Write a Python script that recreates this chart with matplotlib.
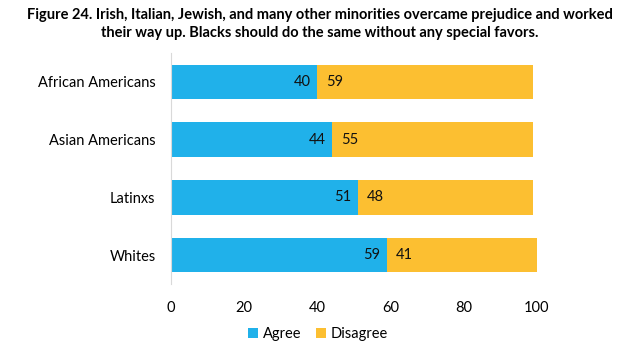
import matplotlib
matplotlib.use("Agg")
import matplotlib.pyplot as plt

categories = ["African Americans", "Asian Americans", "Latinxs", "Whites"]
agree = [40, 44, 51, 59]
disagree = [59, 55, 48, 41]
xticks = [0, 20, 40, 60, 80, 100]

plt.rcParams['font.family'] = ['Lato', 'DejaVu Sans']
blue = "#20B1EA"
orange = "#FCBF31"

fig = plt.figure(figsize=(6.4, 3.51), dpi=100)
ax = fig.add_axes([0.267, 0.191, 0.572, 0.658])

y = list(range(len(categories)))[::-1]
ax.barh(y, agree, height=0.6, color=blue, label="Agree")
ax.barh(y, disagree, left=agree, height=0.6, color=orange, label="Disagree")

for yi, a, d in zip(y, agree, disagree):
    ax.text(a - 1.8, yi, str(a), ha="right", va="center", fontsize=10.5, color="#111111")
    ax.text(a + 2.5, yi, str(d), ha="left", va="center", fontsize=10.5, color="#111111")

ax.set_xlim(0, 100)
ax.set_ylim(-0.5, 3.5)
ax.set_yticks(y)
ax.set_yticklabels(categories, fontsize=10.5)
ax.set_xticks(xticks)
ax.set_xticklabels([str(t) for t in xticks], fontsize=10.5)
ax.tick_params(axis="both", length=0)
ax.tick_params(axis="x", pad=12)
ax.tick_params(axis="y", pad=11)
for s in ["top", "right", "bottom"]:
    ax.spines[s].set_visible(False)
ax.spines["left"].set_color("#D9D9D9")

fig.text(0.5, 0.978, "Figure 24. Irish, Italian, Jewish, and many other minorities overcame prejudice and worked\ntheir way up. Blacks should do the same without any special favors.",
         ha="center", va="top", fontsize=10.5, fontweight="bold", linespacing=1.35)

ax.legend(loc="center", bbox_to_anchor=(318/640, 1 - 334/351), bbox_transform=fig.transFigure,
          ncol=2, frameon=False, fontsize=10.5, handlelength=0.7, handleheight=0.7,
          handletextpad=0.3, columnspacing=1.0)

fig.savefig("out.png", dpi=100)
